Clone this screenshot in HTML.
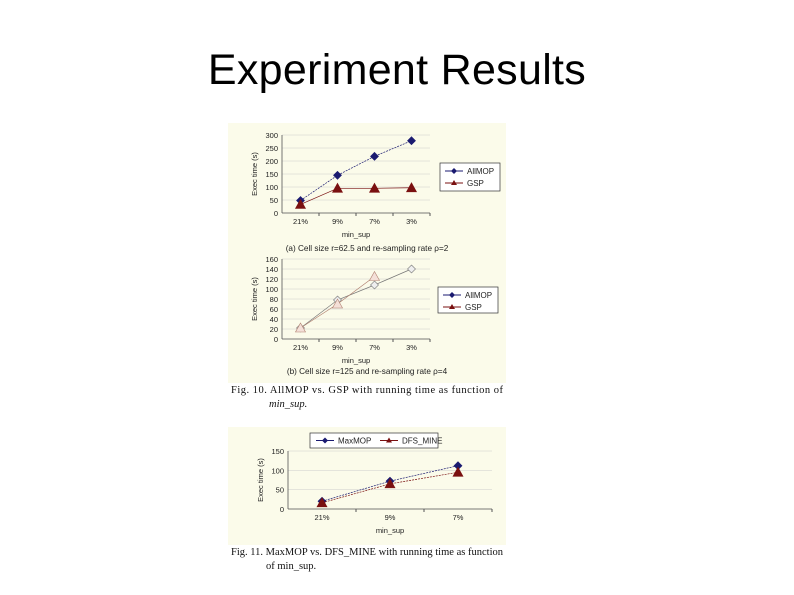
<!DOCTYPE html>
<html><head><meta charset="utf-8"><style>
body{margin:0;width:794px;height:595px;background:#fff;position:relative;overflow:hidden;font-family:"Liberation Sans",sans-serif}
#title{position:absolute;left:0;width:794px;top:46px;text-align:center;font-size:43px;color:#000;letter-spacing:0.3px}
svg{position:absolute;left:0;top:0}
</style></head><body>
<div id="title">Experiment Results</div>
<svg id="s" width="794" height="595"></svg>
<script>
const cats1=["21%","9%","7%","3%"];
const a_allmop=[48,145,218,278];
const a_gsp=[33,95,95,97];
const yt1=[0,50,100,150,200,250,300];
const b_allmop=[22,78,108,140];
const b_gsp=[22,70,125,null];
const yt2=[0,20,40,60,80,100,120,140,160];
const cats3=["21%","9%","7%"];
const c_maxmop=[20,72,112];
const c_dfs=[16,65,95];
const yt3=[0,50,100,150];

const s=document.getElementById('s');const NS="http://www.w3.org/2000/svg";
function el(t,at,name,txt){const e=document.createElementNS(NS,t);for(const k in at)e.setAttribute(k,at[k]);


if(txt!=null)e.textContent=txt;s.appendChild(e);return e;}
el('rect',{x:228,y:123,width:278,height:260,fill:'#fbfbea'},'fig10-background');
el('rect',{x:228,y:427,width:278,height:118,fill:'#fbfbea'},'fig11-background');
function chart(o){
 const{x0,x1,y0,y1,ymax,ticks,cats,series,tag}=o;
 const sy=v=>y0-(v/ymax)*(y0-y1);const bw=(x1-x0)/cats.length;const sx=i=>x0+bw*(i+0.5);
 ticks.forEach(t=>{el('line',{x1:x0,x2:x1,y1:sy(t),y2:sy(t),stroke:'#ccc','stroke-width':0.5},tag+'-gridline');
  el('text',{x:x0-4,y:sy(t)+3,'font-size':7.5,'text-anchor':'end',fill:'#222'},tag+'-y-tick',t);});
 el('line',{x1:x0,x2:x0,y1:y1,y2:y0,stroke:'#555','stroke-width':0.8},tag+'-y-axis');
 el('line',{x1:x0,x2:x1,y1:y0,y2:y0,stroke:'#555','stroke-width':0.8},tag+'-x-axis');
 cats.forEach((c,i)=>{el('line',{x1:x0+bw*(i+1),x2:x0+bw*(i+1),y1:y0,y2:y0+3,stroke:'#555'},tag+'-x-tick-mark');
  el('text',{x:sx(i),y:y0+11,'font-size':7.5,'text-anchor':'middle',fill:'#222'},tag+'-x-tick',c);});
 el('text',{x:(x0+x1)/2,y:y0+24,'font-size':7.5,'text-anchor':'middle',fill:'#222'},tag+'-x-title','min_sup');
 el('text',{x:0,y:0,'font-size':7.5,'text-anchor':'middle',fill:'#222',transform:`translate(${x0-25},${(y0+y1)/2}) rotate(-90)`},tag+'-y-title','Exec time (s)');
 series.forEach(se=>{const pts=[];se.v.forEach((v,i)=>{if(v!=null)pts.push([sx(i),sy(v)]);});
  el('polyline',{points:pts.map(p=>p.join(',')).join(' '),fill:'none',stroke:se.c,'stroke-width':0.7,'stroke-dasharray':se.dash||''},tag+'-line-'+se.n);
  pts.forEach(p=>{if(se.m==='d')el('path',{d:`M${p[0]},${p[1]-4}L${p[0]+4},${p[1]}L${p[0]},${p[1]+4}L${p[0]-4},${p[1]}Z`,fill:se.f,stroke:se.c,'stroke-width':0.6},tag+'-point-'+se.n);
   else el('path',{d:`M${p[0]},${p[1]-5}L${p[0]+5},${p[1]+4}L${p[0]-5},${p[1]+4}Z`,fill:se.f,stroke:se.c,'stroke-width':0.6},tag+'-point-'+se.n);});});
}
chart({x0:282,x1:430,y0:213,y1:135,ymax:300,ticks:yt1,cats:cats1,tag:'chart-a',series:[
 {n:'allmop',v:a_allmop,c:'#1a1a70',f:'#1a1a70',m:'d',dash:'2,1'},{n:'gsp',v:a_gsp,c:'#7a1010',f:'#7a1010',m:'t'}]});
chart({x0:282,x1:430,y0:339,y1:259,ymax:160,ticks:yt2,cats:cats1,tag:'chart-b',series:[
 {n:'allmop',v:b_allmop,c:'#777',f:'#eee',m:'d'},{n:'gsp',v:b_gsp,c:'#b08070',f:'#f4e0d8',m:'t'}]});
chart({x0:288,x1:492,y0:509,y1:451,ymax:150,ticks:yt3,cats:cats3,tag:'chart-c',series:[
 {n:'maxmop',v:c_maxmop,c:'#1a1a70',f:'#1a1a70',m:'d',dash:'2,1'},{n:'dfs-mine',v:c_dfs,c:'#7a1010',f:'#7a1010',m:'t',dash:'2,1'}]});
function legend(x,y,w,h,items,tag,horiz){el('rect',{x,y,width:w,height:h,fill:'#fff',stroke:'#333','stroke-width':0.7},tag+'-legend');
 items.forEach((it,i)=>{const lx=horiz?x+6+i*64:x+5,ly=horiz?y+h/2:y+8+i*12;
  el('line',{x1:lx,x2:lx+18,y1:ly,y2:ly,stroke:it.c,'stroke-width':1},tag+'-legend-line');
  const cx=lx+9;if(it.m==='d')el('path',{d:`M${cx},${ly-3}L${cx+3},${ly}L${cx},${ly+3}L${cx-3},${ly}Z`,fill:it.c},tag+'-legend-marker');
  else el('path',{d:`M${cx},${ly-3}L${cx+3},${ly+2}L${cx-3},${ly+2}Z`,fill:it.c},tag+'-legend-marker');
  el('text',{x:lx+22,y:ly+3,'font-size':8,fill:'#222'},tag+'-legend-label',it.t);});}
legend(440,163,60,28,[{t:'AllMOP',c:'#1a1a70',m:'d'},{t:'GSP',c:'#7a1010',m:'t'}],'chart-a');
legend(438,287,60,26,[{t:'AllMOP',c:'#1a1a70',m:'d'},{t:'GSP',c:'#7a1010',m:'t'}],'chart-b');
legend(310,433,128,15,[{t:'MaxMOP',c:'#1a1a70',m:'d'},{t:'DFS_MINE',c:'#7a1010',m:'t'}],'chart-c',true);
el('text',{x:367,y:251,'font-size':8.2,'text-anchor':'middle',fill:'#222'},'chart-a-caption','(a) Cell size r=62.5 and re-sampling rate ρ=2');
el('text',{x:367,y:374,'font-size':8.2,'text-anchor':'middle',fill:'#222'},'chart-b-caption','(b) Cell size r=125 and re-sampling rate ρ=4');
const sf={'font-family':'"Liberation Serif",serif','font-size':10.5,fill:'#111'};
el('text',Object.assign({x:231,y:393,textLength:272},sf),'fig10-caption-line1','Fig. 10.  AllMOP vs. GSP with running time as function of');
el('text',Object.assign({x:269,y:407,'font-style':'italic'},sf),'fig10-caption-line2','min_sup.');
el('text',Object.assign({x:231,y:555,textLength:272},sf),'fig11-caption-line1','Fig. 11. MaxMOP vs. DFS_MINE with running time as function');
el('text',Object.assign({x:266,y:569},sf),'fig11-caption-line2','of min_sup.');
</script>
</body></html>
